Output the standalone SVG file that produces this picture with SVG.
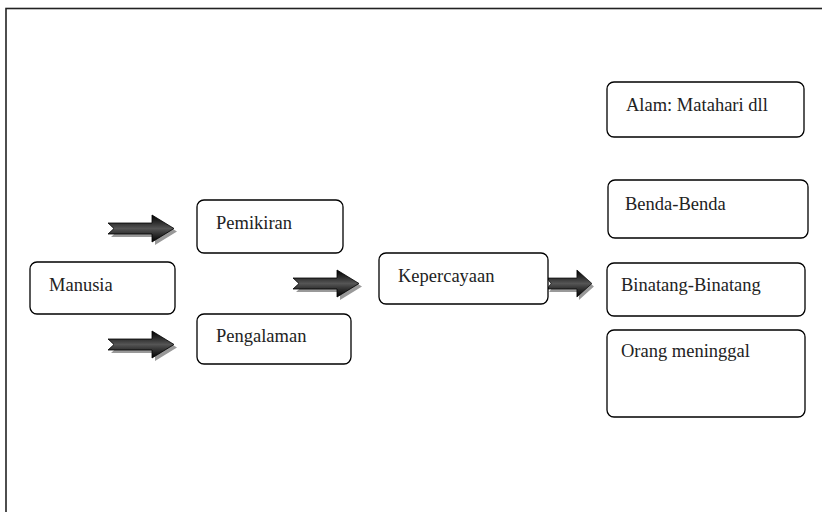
<svg xmlns="http://www.w3.org/2000/svg" xmlns:xlink="http://www.w3.org/1999/xlink" width="822" height="512" viewBox="0 0 822 512">
<style>
.box{fill:#fff;stroke:#000;stroke-width:1.3}
.lbl{font-family:"Liberation Serif","DejaVu Serif",serif;font-size:18.5px;fill:#222}
.frame{fill:none;stroke:#222;stroke-width:1.6}
</style>
<defs>
<linearGradient id="g" x1="0" y1="0" x2="0" y2="1">
<stop offset="0" stop-color="#000"/>
<stop offset="0.35" stop-color="#3a3a3a"/>
<stop offset="0.5" stop-color="#555"/>
<stop offset="0.65" stop-color="#3a3a3a"/>
<stop offset="1" stop-color="#000"/>
</linearGradient>
<path id="arr" d="M0,8 L44,8 L44,0 L66,13.5 L44,27 L44,19 L0,19 L6,13.5 Z"/>
<g id="fat">
<use xlink:href="#arr" transform="translate(3,3)" fill="#999"/>
<use xlink:href="#arr" fill="url(#g)" stroke="#000" stroke-width="0.8"/>
</g>
</defs>
<rect class="frame" x="6" y="8.5" width="830" height="520"/>
<g id="connectors">
<use xlink:href="#fat" transform="translate(108,215)"/>
<use xlink:href="#fat" transform="translate(108,331)"/>
<use xlink:href="#fat" transform="translate(293,270)"/>
<use xlink:href="#fat" transform="translate(547,270) scale(0.68,1)"/>
</g>
<g id="manusia"><rect class="box" x="30" y="262" width="145" height="52" rx="7"/><text class="lbl" x="49" y="291">Manusia</text></g>
<g id="pemikiran"><rect class="box" x="197" y="200" width="146" height="53" rx="7"/><text class="lbl" x="216" y="229">Pemikiran</text></g>
<g id="pengalaman"><rect class="box" x="197" y="314" width="154" height="50" rx="7"/><text class="lbl" x="216" y="342">Pengalaman</text></g>
<g id="kepercayaan"><rect class="box" x="379" y="253" width="169" height="51" rx="7"/><text class="lbl" x="398" y="282">Kepercayaan</text></g>
<g id="alam"><rect class="box" x="607" y="82" width="197" height="55" rx="7"/><text class="lbl" x="626" y="111">Alam: Matahari dll</text></g>
<g id="benda"><rect class="box" x="608" y="180" width="200" height="58" rx="7"/><text class="lbl" x="625" y="210">Benda-Benda</text></g>
<g id="binatang"><rect class="box" x="607" y="263" width="198" height="53" rx="7"/><text class="lbl" x="621" y="291">Binatang-Binatang</text></g>
<g id="orang"><rect class="box" x="607" y="330" width="198" height="87" rx="7"/><text class="lbl" x="621" y="357">Orang meninggal</text></g>
</svg>
